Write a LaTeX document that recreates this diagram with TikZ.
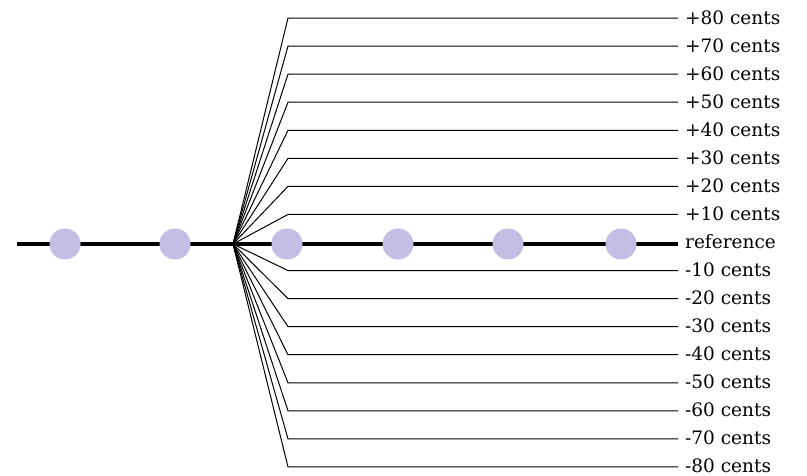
\documentclass[tikz,border=0pt]{standalone}
\usepackage{fontspec}
\setmainfont{DejaVu Serif}
\definecolor{dotcol}{RGB}{196,190,228}
\begin{document}
\begin{tikzpicture}[x=1pt,y=-1pt,
  dot/.style={circle,fill=dotcol,draw=none,minimum size=31pt,inner sep=0pt},
  lab/.style={anchor=base west,inner sep=0pt,font=\fontsize{18.5}{19}\selectfont},
  thin/.style={line width=1pt,black},
  thick/.style={line width=3.6pt,black}]
\useasboundingbox (0,0) rectangle (807,476);
\coordinate (O) at (233,244);
\coordinate (L) at (17,244);
\coordinate (R) at (678,244);
\node[lab] (l0) at (685,248.5) {reference};
\foreach \k/\t in {8/+80,7/+70,6/+60,5/+50,4/+40,3/+30,2/+20,1/+10,-1/-10,-2/-20,-3/-30,-4/-40,-5/-50,-6/-60,-7/-70,-8/-80}{
  \pgfmathsetmacro{\yy}{242.5-28.06*\k}
  \pgfmathsetmacro{\by}{\yy+6}
  \coordinate (b\k) at (288,\yy);
  \coordinate (e\k) at (678,\yy);
  \node[lab] (l\k) at (685,\by) {\t\ cents};
  \draw[thin] (O) -- (b\k) -- (e\k);
}
\draw[thick] (L) -- (R);
\foreach \i/\x in {1/65,2/175,3/287,4/398,5/508,6/621}{
  \node[dot] (d\i) at (\x,244) {};
}
\end{tikzpicture}
\end{document}
